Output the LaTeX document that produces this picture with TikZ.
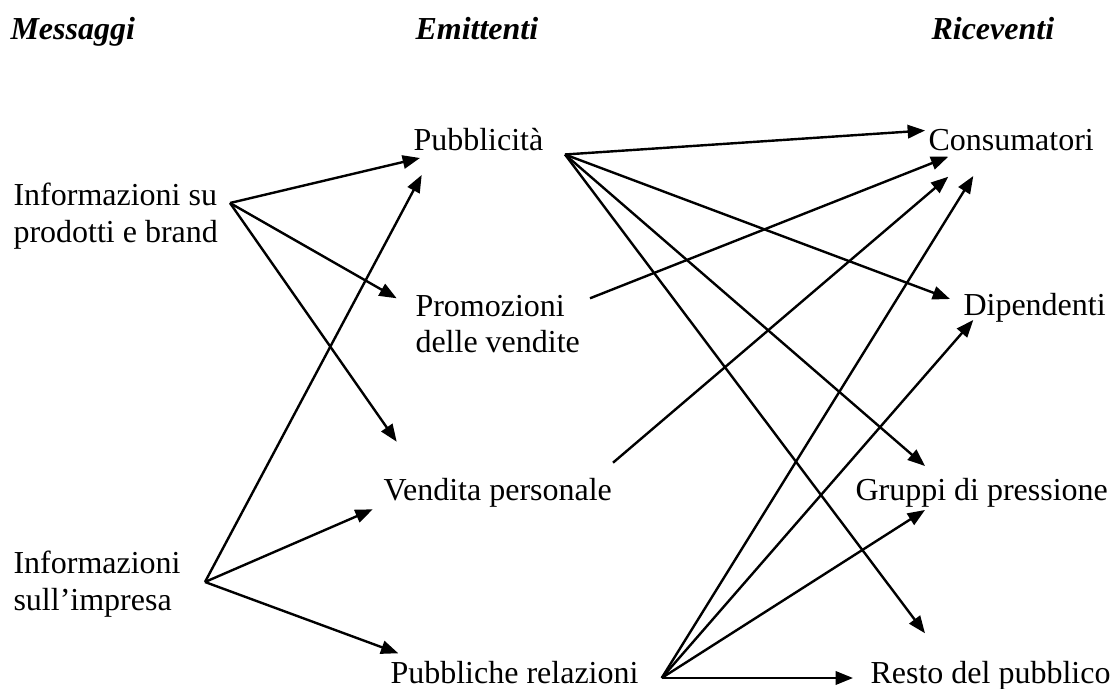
\documentclass[tikz,border=0pt]{standalone}
\usepackage{fontspec}
\setmainfont{Liberation Serif}
\usetikzlibrary{arrows.meta}

\begin{document}
\begin{tikzpicture}[
            x = 0.375pt, y = -0.375pt,
            every node/.style = {inner sep = 0pt, anchor = base west, align = left,
                                 font = \fontsize{12pt}{13.5pt}\selectfont},
            head/.style = {font = \fontsize{12pt}{13.5pt}\selectfont\bfseries\itshape},
            arr/.style = {line width = 0.9pt, -{Triangle[length = 6.5pt, width = 5pt]}}]
            \useasboundingbox (0,0) rectangle (1113,689);
            % colonne
            \node[head] (mes) at (10,39) {Messaggi};
            \node[head] (emi) at (415,39) {Emittenti};
            \node[head] (ric) at (931,39) {Riceventi};
            % messaggi (base = ultima riga)
            \node (infoprod) at (13,242) {Informazioni su\\prodotti e brand};
            \node (infoimp) at (13,610) {Informazioni\\sull’impresa};
            % emittenti
            \node (pub) at (413,151) {Pubblicità};
            \node (promo) at (415,352) {Promozioni\\delle vendite};
            \node (vend) at (383,500) {Vendita personale};
            \node (pubrel) at (390,683) {Pubbliche relazioni};
            % riceventi
            \node (cons) at (928,151) {Consumatori};
            \node (dip) at (963,315) {Dipendenti};
            \node (grup) at (855,500) {Gruppi di pressione};
            \node (resto) at (870,683) {Resto del pubblico};
            % messaggi -> emittenti
            \draw[arr] ([shift={(217,-39)}]infoprod.base west) -- ([shift={(7,7)}]pub.base west);
            \draw[arr] ([shift={(217,-39)}]infoprod.base west) -- ([shift={(-18.3,-53.7)}]promo.base west);
            \draw[arr] ([shift={(217,-39)}]infoprod.base west) -- ([shift={(13.7,-58.3)}]vend.base west);
            \draw[arr] ([shift={(192,-28)}]infoimp.base west) -- ([shift={(8.7,24)}]pub.base west);
            \draw[arr] ([shift={(192,-28)}]infoimp.base west) -- ([shift={(-10.3,9.3)}]vend.base west);
            \draw[arr] ([shift={(192,-28)}]infoimp.base west) -- ([shift={(8.3,-29.7)}]pubrel.base west);
            % emittenti -> riceventi
            \draw[arr] ([shift={(152,3.5)}]pub.base west) -- ([shift={(-3,-20.5)}]cons.base west);
            \draw[arr] ([shift={(152,3.5)}]pub.base west) -- ([shift={(-13,-16)}]dip.base west);
            \draw[arr] ([shift={(152,3.5)}]pub.base west) -- ([shift={(70,-34)}]grup.base west);
            \draw[arr] ([shift={(152,3.5)}]pub.base west) -- ([shift={(55,-49.7)}]resto.base west);
            \draw[arr] ([shift={(175,-53.7)}]promo.base west) -- ([shift={(20.3,5.7)}]cons.base west);
            \draw[arr] ([shift={(230,-37.3)}]vend.base west) -- ([shift={(20.3,25.7)}]cons.base west);
            \draw[arr] ([shift={(271.7,-5)}]pubrel.base west) -- ([shift={(45.3,25)}]cons.base west);
            \draw[arr] ([shift={(271.7,-5)}]pubrel.base west) -- ([shift={(10.3,5)}]dip.base west);
            \draw[arr] ([shift={(271.7,-5)}]pubrel.base west) -- ([shift={(70,10)}]grup.base west);
            \draw[arr] ([shift={(271.7,-5)}]pubrel.base west) -- ([shift={(-17,-5)}]resto.base west);
        \end{tikzpicture}
\end{document}
